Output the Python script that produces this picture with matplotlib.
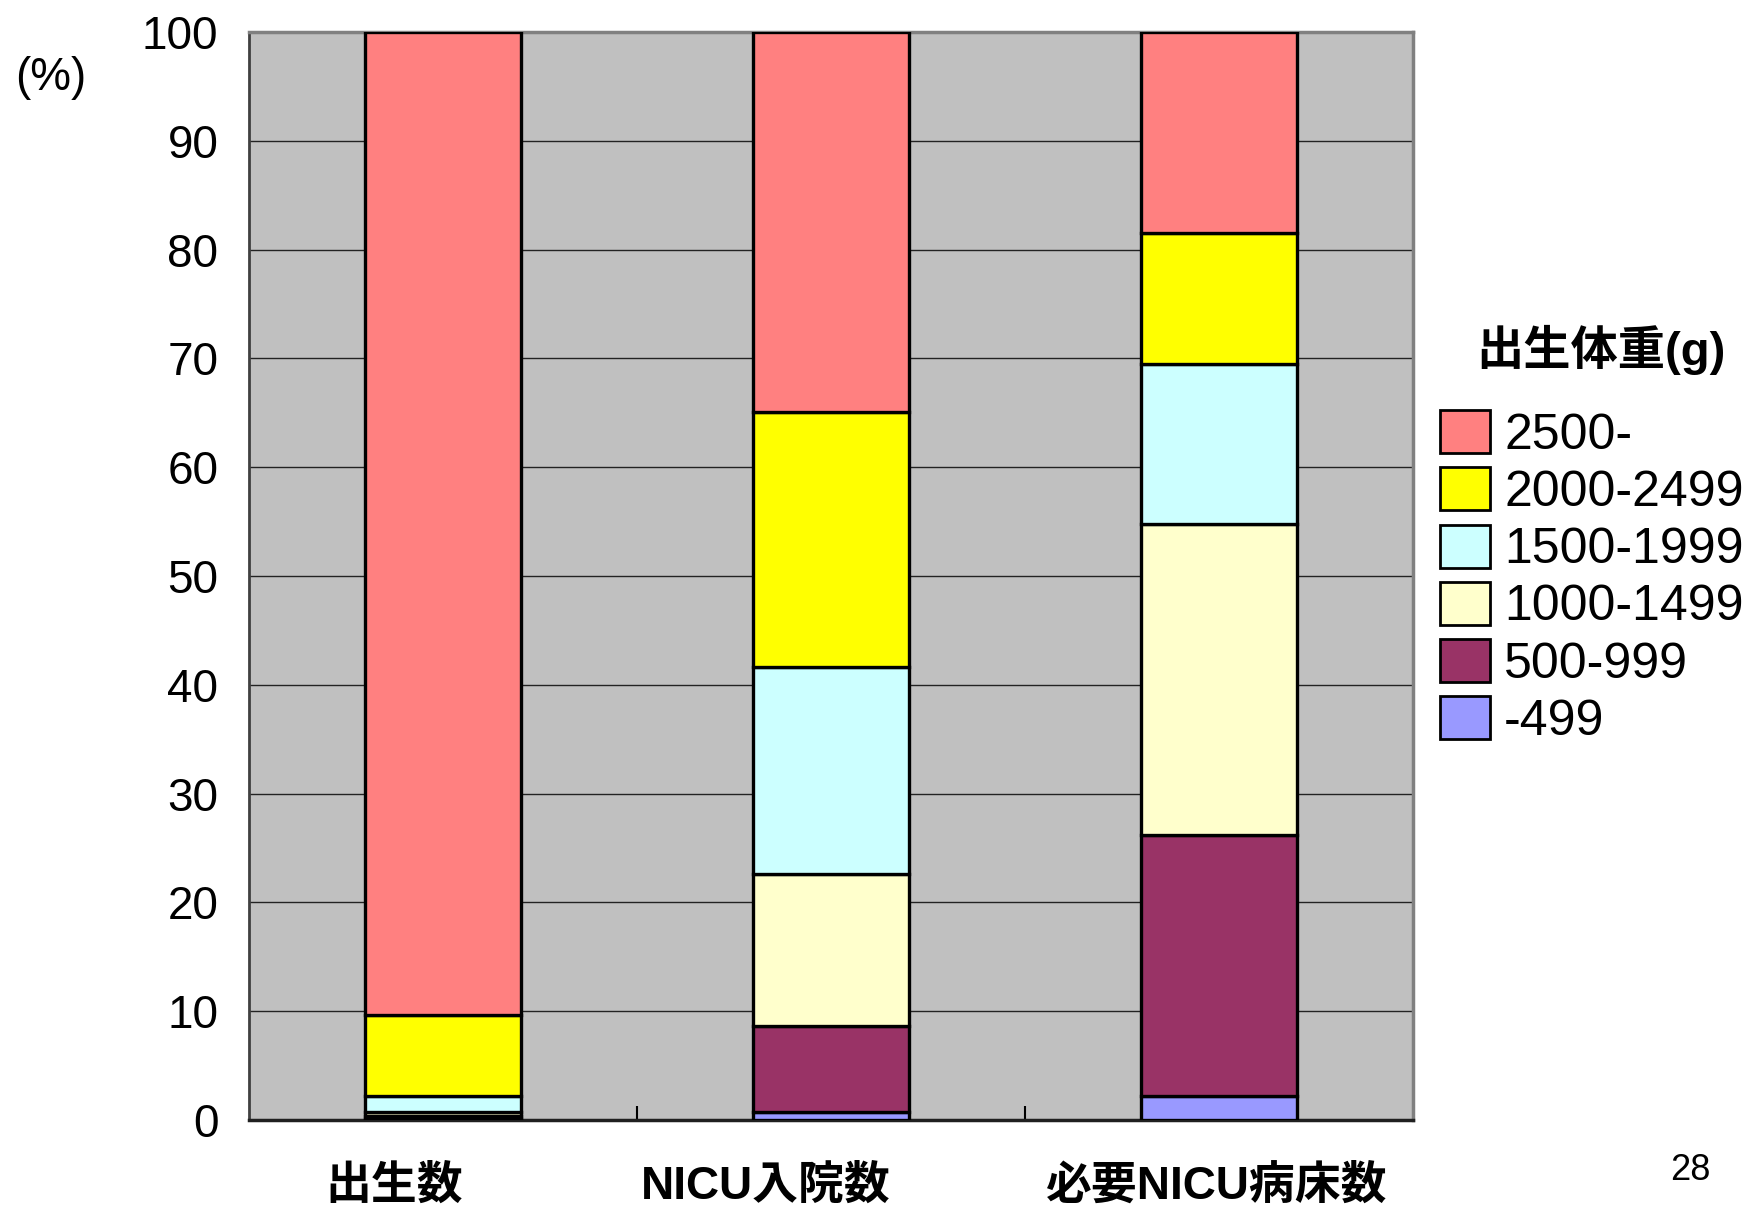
import matplotlib
matplotlib.use("Agg")
import matplotlib.pyplot as plt
from matplotlib.patches import Patch
import numpy as np

plt.rcParams['font.family'] = ['Liberation Sans', 'Noto Sans CJK JP', 'DejaVu Sans']

categories = ['出生数', 'NICU入院数', '必要NICU病床数']
groups = ['-499', '500-999', '1000-1499', '1500-1999', '2000-2499', '2500-']
values = {
    '-499':      [0.05, 0.7, 2.2],
    '500-999':   [0.3, 7.9, 24.0],
    '1000-1499': [0.4, 14.0, 28.6],
    '1500-1999': [1.5, 19.0, 14.7],
    '2000-2499': [7.4, 23.5, 12.05],
    '2500-':     [90.35, 34.9, 18.45],
}
colors = {
    '-499': '#9999FF',
    '500-999': '#993366',
    '1000-1499': '#FFFFCC',
    '1500-1999': '#CCFFFF',
    '2000-2499': '#FFFF00',
    '2500-': '#FF8080',
}
yticks = [0, 10, 20, 30, 40, 50, 60, 70, 80, 90, 100]
legend_title = '出生体重(g)'

fig = plt.figure(figsize=(17.6, 12.13), dpi=100)
ax = fig.add_axes([249/1760, 1 - 1120/1213, (1413-249)/1760, (1120-32)/1213])
ax.set_facecolor('#C0C0C0')

x = np.arange(len(categories))
bottom = np.zeros(len(categories))
for g in groups:
    v = np.array(values[g])
    ax.bar(x, v, 0.4, bottom=bottom, color=colors[g], edgecolor='black',
           linewidth=2.4, zorder=3)
    bottom += v

ax.set_xlim(-0.5, 2.5)
ax.set_ylim(0, 100)
ax.set_yticks(yticks)
ax.set_yticklabels([str(t) for t in yticks], fontsize=33)
ax.tick_params(axis='y', length=0, pad=22)
ax.yaxis.grid(True, color='#222222', linewidth=1.0, zorder=0)
ax.set_axisbelow(True)

ax.set_xticks(x)
ax.set_xticklabels([''] * len(categories))
ax.tick_params(axis='x', which='major', length=0)
ax.set_xticks([0.5, 1.5], minor=True)
ax.tick_params(axis='x', which='minor', direction='in', length=10, width=1.5, color='black')

# category labels (positioned as in the original slide)
cat_x = [394, 766, 1216]
for cx, lab in zip(cat_x, categories):
    fig.text(cx/1760, 1 - 1187/1213, lab, fontsize=33, fontweight='bold',
             ha='center', va='center')

for s in ['top', 'right']:
    ax.spines[s].set_color('#808080')
    ax.spines[s].set_linewidth(2.5)
ax.spines['left'].set_color('#404040')
ax.spines['left'].set_linewidth(2)
ax.spines['bottom'].set_color('#202020')
ax.spines['bottom'].set_linewidth(2.5)

fig.text(51/1760, 1 - 78/1213, '(%)', fontsize=33, ha='center', va='center')
fig.text(1601/1760, 1 - 350/1213, legend_title, fontsize=34, fontweight='bold',
         ha='center', va='center')

leg_handles = [Patch(facecolor=colors[g], edgecolor='black', linewidth=2) for g in groups[::-1]]
fig.legend(leg_handles, groups[::-1], loc='upper left',
           bbox_to_anchor=(1440/1760, 1 - 410/1213), frameon=False,
           fontsize=36, handlelength=1.0, handleheight=0.95,
           handletextpad=0.28, labelspacing=0.17, borderpad=0, borderaxespad=0)

fig.text(1690/1760, 1 - 1170/1213, '28', fontsize=26, ha='center', va='center')

fig.savefig('out.png', dpi=100)
